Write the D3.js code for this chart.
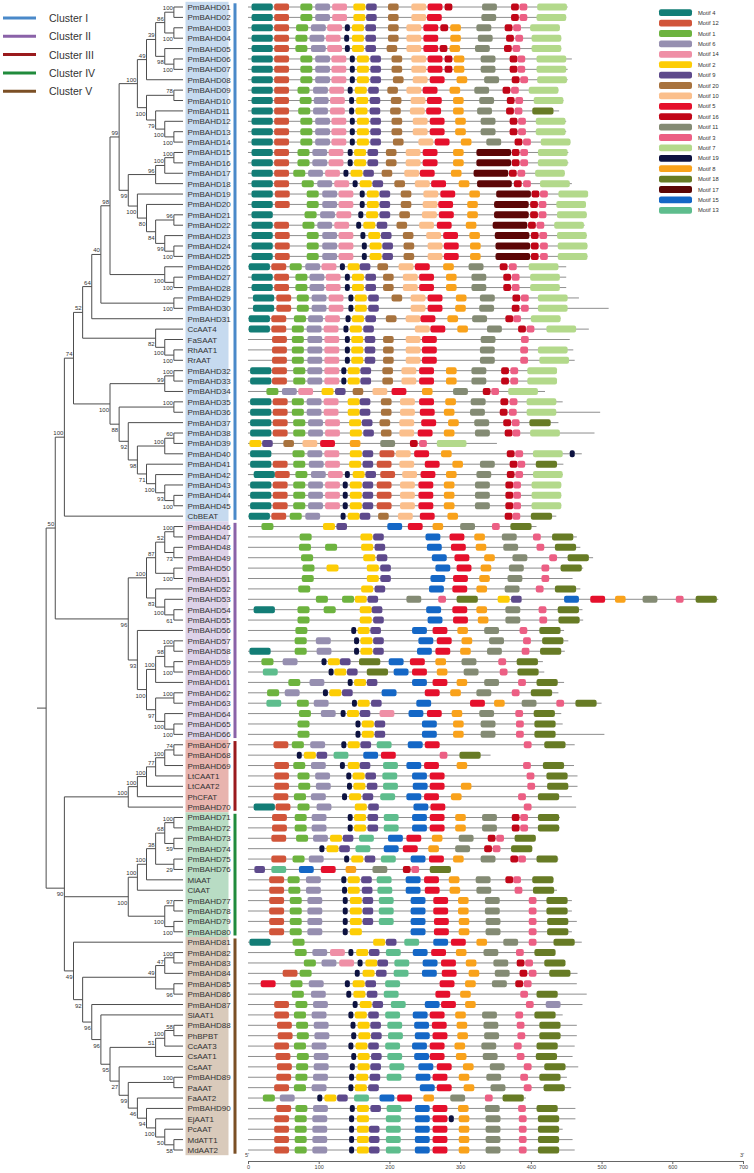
<!DOCTYPE html>
<html><head><meta charset="utf-8">
<script src="https://cdn.jsdelivr.net/npm/d3@7"></script>
<style>body{margin:0;background:#fff}svg{display:block;font-family:"Liberation Sans",Arial,sans-serif}</style>
</head><body>
<svg id="chart" width="754" height="1173"></svg>
<script>
// ---------------- DATA ----------------
const treeNewick = "(((((((((((((((PmBAHD01,PmBAHD02)100,(PmBAHD03,PmBAHD04)100)86,(PmBAHD05,(PmBAHD06,PmBAHD07)100)98)39,PmBAHD08)49,((PmBAHD09,PmBAHD10)78,(PmBAHD11,(PmBAHD12,(PmBAHD13,PmBAHD14)100)100)79)100)100,((((PmBAHD15,PmBAHD16)100,PmBAHD17)100,PmBAHD18)96,(PmBAHD19,(PmBAHD20,((PmBAHD21,PmBAHD22)96,(PmBAHD23,(PmBAHD24,PmBAHD25)100)99)84)80)100)99)99,(PmBAHD26,(PmBAHD27,PmBAHD28)100)100)98,(PmBAHD29,PmBAHD30)100)40,PmBAHD31)64,(CcAAT4,(FaSAAT,(RhAAT1,RrAAT)100)100)82)52,(((PmBAHD32,PmBAHD33)100,PmBAHD34)99,((PmBAHD35,PmBAHD36)100,(PmBAHD37,(((PmBAHD38,PmBAHD39)60,PmBAHD40)100,(PmBAHD41,(PmBAHD42,(PmBAHD43,(PmBAHD44,PmBAHD45)100)93)100)71)98)92)88)100)74,CbBEAT)100,(((((PmBAHD46,PmBAHD47)100,(PmBAHD48,PmBAHD49)73)52,(PmBAHD50,PmBAHD51)100)87,(PmBAHD52,(PmBAHD53,(PmBAHD54,PmBAHD55)61)100)83)100,(PmBAHD56,((((PmBAHD57,PmBAHD58)100,(PmBAHD59,PmBAHD60)100)98,PmBAHD61)100,((PmBAHD62,PmBAHD63)100,(PmBAHD64,(PmBAHD65,PmBAHD66)100)100)97)100)93)96)50,(((((((PmBAHD67,PmBAHD68)74,PmBAHD69)100,LtCAAT1)77,LtCAAT2)100,PhCFAT)100,PmBAHD70)100,((((((PmBAHD71,PmBAHD72)100,(PmBAHD73,PmBAHD74)59)68,(PmBAHD75,PmBAHD76)29)38,MiAAT)100,ClAAT)100,((PmBAHD77,PmBAHD78)97,(PmBAHD79,PmBAHD80)100)100)100,(PmBAHD81,((((PmBAHD82,PmBAHD83)100,PmBAHD84)47,(PmBAHD85,PmBAHD86)96)49,(PmBAHD87,(SlAAT1,((((PmBAHD88,PhBPBT)58,CcAAT3)100,CsAAT1)51,(CsAAT,((PmBAHD89,PaAAT)100,(FaAAT2,(PmBAHD90,(EjAAT1,(PcAAT,(MdATT1,MdAAT2)58)50)100)94)46)99)27)95)96)96)92)49)90))";

const clusterNames = ["Cluster I","Cluster II","Cluster III","Cluster IV","Cluster V"];
const clusterColors = ["#4a89c9","#8a62a8","#9a1a1d","#208b3c","#7b4f25"];
const clusterFills = ["#c6daef","#ddd2e8","#e8b4ae","#b8dcc4","#d9cabb"];
const clusterFirst = ["PmBAHD01","PmBAHD46","PmBAHD67","PmBAHD71","PmBAHD81"];
const clusterLast  = ["CbBEAT","PmBAHD66","PmBAHD70","PmBAHD80","MdAAT2"];

const motifIds    = [4,12,1,6,14,2,9,20,10,5,16,11,3,7,19,8,18,17,15,13];
const motifColors = ["#137d76","#d1553a","#6db33f","#968fb0","#ef8fa6","#fdcd05","#5e4a8c","#a8733e","#fbbf8c","#e5102c","#c10618","#848b74","#ec5f84","#b3d98b","#0d1240","#f9a21b","#677b25","#5c0606","#1467c6","#5ebd8d"];
const motifWidths = [30,21,17,21,21,17,15,15,21,21,11,21,11,42,7,15,30,49,21,21];

const axisTicks = [0,100,200,300,400,500,600,700];

const seqNames = ["PmBAHD01","PmBAHD02","PmBAHD03","PmBAHD04","PmBAHD05","PmBAHD06","PmBAHD07","PmBAHD08","PmBAHD09","PmBAHD10","PmBAHD11","PmBAHD12","PmBAHD13","PmBAHD14","PmBAHD15","PmBAHD16","PmBAHD17","PmBAHD18","PmBAHD19","PmBAHD20","PmBAHD21","PmBAHD22","PmBAHD23","PmBAHD24","PmBAHD25","PmBAHD26","PmBAHD27","PmBAHD28","PmBAHD29","PmBAHD30","PmBAHD31","CcAAT4","FaSAAT","RhAAT1","RrAAT","PmBAHD32","PmBAHD33","PmBAHD34","PmBAHD35","PmBAHD36","PmBAHD37","PmBAHD38","PmBAHD39","PmBAHD40","PmBAHD41","PmBAHD42","PmBAHD43","PmBAHD44","PmBAHD45","CbBEAT",
"PmBAHD46","PmBAHD47","PmBAHD48","PmBAHD49","PmBAHD50","PmBAHD51","PmBAHD52","PmBAHD53","PmBAHD54","PmBAHD55","PmBAHD56","PmBAHD57","PmBAHD58","PmBAHD59","PmBAHD60","PmBAHD61","PmBAHD62","PmBAHD63","PmBAHD64","PmBAHD65","PmBAHD66",
"PmBAHD67","PmBAHD68","PmBAHD69","LtCAAT1","LtCAAT2","PhCFAT","PmBAHD70",
"PmBAHD71","PmBAHD72","PmBAHD73","PmBAHD74","PmBAHD75","PmBAHD76","MiAAT","ClAAT","PmBAHD77","PmBAHD78","PmBAHD79","PmBAHD80",
"PmBAHD81","PmBAHD82","PmBAHD83","PmBAHD84","PmBAHD85","PmBAHD86","PmBAHD87","SlAAT1","PmBAHD88","PhBPBT","CcAAT3","CsAAT1","CsAAT","PmBAHD89","PaAAT","FaAAT2","PmBAHD90","EjAAT1","PcAAT","MdATT1","MdAAT2"];

const seqLengths = [452,450,441,443,443,458,452,452,439,446,440,450,450,456,453,453,448,458,480,478,479,476,479,480,480,450,450,450,468,510,442,482,455,460,462,437,437,420,445,498,439,490,352,472,446,445,443,443,443,436,
408,465,470,488,474,459,470,665,473,474,447,453,448,417,419,447,439,500,443,445,504,
462,343,461,466,466,458,464,
441,441,407,402,439,287,432,437,458,458,465,458,
472,434,448,466,465,479,473,445,465,465,462,459,467,451,457,393,463,463,445,459,462];

const seqMotifs = [
"4:5 12:37 1:74 6:95 14:119 2:149 9:167 20:198 10:231 5:254 16:278 11:331 16:372 3:384 7:409",
"4:5 12:37 1:74 6:95 14:119 2:149 9:167 20:198 10:231 5:253 11:330 16:372 3:384 7:408",
"4:5 12:37 1:68 6:89 14:112 19:137 2:147 9:166 20:198 10:224 5:248 16:272 8:286 11:323 16:363 3:375 7:399",
"4:5 12:37 1:67 6:87 14:110 19:136 2:147 9:166 20:198 10:224 5:248 8:286 11:325 16:365 3:378 7:401",
"4:5 12:37 1:67 6:89 14:112 19:137 2:147 9:166 20:196 10:224 5:248 16:271 8:285 11:321 16:362 3:374 7:401",
"4:5 12:37 1:74 6:95 14:118 19:144 2:154 9:173 20:203 10:231 5:254 16:278 8:291 11:329 16:370 3:381 7:408",
"4:5 12:37 1:74 6:95 14:118 19:144 2:154 9:173 20:203 10:231 5:254 16:278 8:291 11:329 16:370 3:381 7:408",
"4:5 12:37 1:74 6:95 14:118 19:144 2:154 9:173 20:205 10:233 5:257 8:295 11:334 16:373 3:385 7:409",
"4:5 12:37 1:70 6:92 14:115 19:141 2:151 9:170 20:197 10:224 5:247 8:285 11:320 16:360 3:372 7:397",
"4:5 12:37 1:73 6:93 14:116 19:143 2:153 9:172 20:202 10:230 5:253 8:290 11:327 16:366 3:378 7:404",
"4:5 12:37 1:71 6:92 14:116 19:143 2:152 9:172 20:201 10:229 5:252 8:290 11:324 16:365 3:377 18:402",
"4:5 12:37 1:74 6:95 14:118 19:144 2:154 9:173 20:203 10:233 5:257 8:293 11:329 16:370 3:382 7:407",
"4:5 12:37 1:74 6:95 14:118 19:144 2:154 9:173 20:203 10:233 5:257 8:293 11:329 16:370 3:382 7:407",
"4:5 12:37 1:74 6:95 14:118 19:144 2:154 9:173 20:205 10:241 5:264 8:301 11:337 16:377 3:389 7:414",
"4:5 12:37 1:70 6:91 14:114 19:141 2:150 9:169 20:195 10:223 5:247 8:290 17:323 16:373 3:385 7:410",
"4:5 12:37 1:70 6:91 14:114 19:141 2:150 9:169 20:195 10:223 5:247 8:290 17:323 16:373 3:385 7:410",
"4:5 12:37 1:64 6:85 14:109 19:135 2:145 9:163 20:189 10:221 5:243 8:287 17:319 16:369 3:381 7:406",
"4:5 12:37 1:76 6:98 14:122 19:148 2:158 9:176 20:207 10:236 5:259 8:298 17:324 16:376 3:389 7:413",
"4:5 12:38 1:83 6:105 14:128 19:158 2:168 9:186 20:216 10:248 5:272 8:313 17:351 16:401 3:413 7:439",
"4:5 12:38 1:83 6:105 14:128 19:158 2:168 9:186 20:216 10:247 5:269 8:310 17:348 16:399 3:411 7:436",
"4:5 1:80 6:102 14:125 19:156 2:167 9:186 20:214 10:246 5:270 8:310 17:348 16:399 3:411 7:437",
"4:5 12:37 1:77 6:98 14:122 19:153 2:163 9:182 20:210 10:242 5:267 8:308 17:346 16:396 3:408 7:433",
"4:5 12:38 1:83 6:105 14:128 19:159 2:170 9:188 20:219 10:252 5:276 8:313 17:349 16:400 3:412 7:437",
"4:5 12:38 1:83 6:105 14:128 19:161 2:172 9:190 20:220 10:254 5:277 8:314 17:350 16:400 3:413 7:438",
"4:5 12:38 1:83 6:105 14:128 19:161 2:172 9:190 20:220 10:254 5:277 8:314 17:350 16:400 3:413 7:438",
"4:1 12:33 1:59 6:81 14:104 19:130 2:141 9:158 20:183 10:213 5:236 8:276 11:312 16:356 3:369 7:397",
"4:5 12:37 1:67 6:87 14:110 19:137 2:147 9:166 20:191 10:219 5:242 8:280 11:316 16:361 3:373 7:399",
"4:5 12:37 1:67 6:87 14:110 19:137 2:147 9:166 20:191 10:219 5:242 8:280 11:316 16:361 3:373 7:399",
"4:7 12:40 1:69 6:90 14:114 19:142 2:151 9:170 20:203 10:230 5:254 8:294 11:328 16:374 3:386 7:410",
"4:7 12:40 1:69 6:90 14:114 19:142 2:151 9:170 10:230 5:254 8:293 11:327 16:373 3:386 7:410",
"4:1 12:33 1:65 6:85 14:109 19:138 2:147 9:166 20:195 10:223 5:244 8:282 11:317 16:364 3:375 7:400",
"4:1 12:33 1:62 6:83 14:107 19:135 2:144 9:163 10:236 5:258 8:296 11:338 16:382 3:394 7:422",
"12:34 1:62 6:84 14:108 19:137 2:146 9:165 20:191 10:223 5:246 11:329 3:386",
"12:34 1:62 6:84 14:108 19:137 2:146 9:165 20:191 10:223 5:246 11:328 3:385 7:410",
"12:34 1:62 6:84 14:108 19:137 2:146 9:165 20:191 10:223 5:246 11:328 3:385 7:412",
"4:3 12:34 1:64 6:84 14:108 19:132 2:141 9:159 20:190 10:217 5:242 8:280 11:316 16:358 3:371 7:395",
"4:3 12:34 1:64 6:84 14:108 19:132 2:141 9:159 20:190 10:217 5:242 8:280 11:316 16:358 3:371 7:395",
"1:26 6:48 14:71 2:104 9:123 20:148 10:176 5:203 8:246 11:290 16:332 3:344 7:368",
"4:3 12:35 1:62 6:83 14:107 2:141 9:158 20:188 10:215 5:242 8:279 11:315 16:357 3:370 7:394",
"4:3 12:35 1:62 6:83 14:107 2:141 9:158 20:188 10:215 5:243 8:277 11:314 16:356 3:369 7:394",
"4:3 12:35 1:64 6:85 14:109 2:143 9:161 20:186 10:214 5:245 8:283 11:320 16:361 3:373 18:398",
"4:3 12:35 1:64 6:85 14:109 2:144 9:163 20:188 10:214 5:240 8:277 11:321 16:363 3:374 7:399",
"2:2 9:20 20:50 10:77 5:102 8:144 11:187 16:229 3:242 7:267",
"4:3 1:63 6:84 14:108 2:144 9:162 12:186 10:209 5:235 8:273 16:366 3:378 7:403 19:455",
"4:3 12:35 1:64 6:86 14:109 2:143 9:162 12:182 10:214 5:250 8:289 11:328 16:370 3:381 18:407",
"4:8 12:38 1:67 6:89 14:113 19:137 2:148 9:166 12:187 10:218 5:244 8:280 11:323 16:366 3:378 7:403",
"4:3 12:35 1:64 6:85 14:109 19:134 2:144 9:162 12:182 10:215 5:241 8:277 11:321 16:364 3:375 7:401",
"4:3 12:35 1:64 6:85 14:109 19:134 2:144 9:162 12:182 10:215 5:241 8:277 11:321 16:364 3:375 7:401",
"4:3 12:35 1:64 6:85 14:109 19:134 2:144 9:162 12:182 10:215 5:241 8:277 11:321 16:364 3:375 7:401",
"4:1 12:33 1:59 6:81 19:131 2:141 9:158 20:184 10:212 5:243 8:282 16:363 3:374 18:400",
"1:19 2:106 9:125 15:197 5:226 8:261 11:300 3:345 18:371",
"1:73 2:159 9:177 15:251 5:285 8:320 11:359 3:403 18:430",
"1:72 1:109 2:160 9:179 15:253 5:287 8:322 11:361 3:408 18:434",
"1:75 2:163 9:182 15:260 5:292 8:334 11:374 3:426 18:452",
"1:77 2:111 2:168 9:187 15:265 5:295 8:329 11:369 3:415 18:442",
"1:76 2:168 9:187 15:258 5:290 8:327 11:367 3:415",
"1:71 2:160 9:179 15:256 5:289 8:323 11:363 3:407 18:434",
"1:96 1:133 2:151 9:169 11:224 3:269 18:295 2:353 9:372 15:447 5:484 8:519 11:558 3:605 18:633",
"4:8 1:70 1:107 2:158 9:175 15:252 5:289 8:323 11:364 3:411 18:438",
"1:70 2:158 9:177 15:254 5:290 8:325 11:364 3:412 18:439",
"1:67 19:146 2:155 9:173 15:232 5:261 8:296 11:334 3:384 18:412",
"1:66 6:96 19:150 2:159 9:177 15:241 5:267 8:302 11:341 3:389 18:416",
"4:2 1:66 6:97 19:150 2:159 9:177 15:239 5:265 8:300 11:338 3:387 18:413",
"1:19 6:49 19:104 2:113 9:130 18:157 15:199 5:229 8:265 11:302 3:354 18:380",
"13:21 19:114 2:122 9:140 18:168 15:206 5:232 8:267 11:305 3:356 18:381",
"1:57 6:87 19:141 2:150 9:168 15:232 5:261 8:295 11:334 3:382 18:408",
"1:27 6:52 19:106 2:115 9:133 15:189 5:250 8:286 11:323 3:373 18:400",
"13:26 1:69 6:93 19:147 2:155 9:174 15:238 5:314 8:348 11:387 3:436 18:463",
"1:72 6:103 19:131 2:140 9:158 14:186 15:227 5:253 8:288 11:327 3:378 18:404",
"1:70 19:152 2:161 9:179 15:246 8:290 11:329 3:379 18:405",
"1:70 19:152 2:161 9:179 15:246 8:290 11:329 3:379 18:405",
"12:36 1:62 6:88 19:132 2:141 9:159 13:182 15:226 5:250 3:390 18:419",
"19:69 2:79 9:97 13:121 15:163 5:188 3:271 18:299",
"12:37 1:64 6:89 19:130 2:141 9:158 13:191 15:224 5:249 8:295 3:389 18:417",
"12:37 1:70 6:95 19:139 2:148 9:166 13:190 15:232 5:257 3:394 18:422",
"12:37 1:71 6:96 19:140 2:149 9:168 13:191 15:233 5:257 8:301 3:395 18:423",
"12:36 1:65 6:89 19:133 2:143 9:162 13:187 15:224 5:249 8:287 3:382 18:410",
"4:8 12:39 1:70 6:97 2:151 9:170 15:234 5:258 3:390",
"12:34 1:66 6:90 19:141 2:150 9:169 13:192 15:232 5:257 8:293 11:331 16:373 3:385 18:410",
"12:34 1:66 6:90 19:141 2:150 9:169 13:192 15:232 5:257 8:293 11:331 16:373 3:385 18:410",
"12:33 1:68 6:92 2:116 9:134 13:157 15:198 5:224 8:260 11:298 16:339 3:351 18:377",
"19:101 2:111 9:129 13:152 15:192 5:219 8:255 11:293 16:334 3:346 18:372",
"12:33 1:63 6:86 19:136 2:146 9:165 13:188 15:230 5:256 8:290 11:329 16:371 3:382 18:408",
"9:9 13:33 15:72 5:103 8:138 11:176 16:219 3:231 18:257",
"12:30 1:56 6:82 19:132 2:141 9:160 13:182 15:223 5:249 8:284 11:322 16:364 3:375 18:402",
"12:30 1:57 6:82 19:133 2:141 9:161 13:183 15:223 5:250 8:285 11:323 3:377 18:403",
"12:30 1:59 6:84 19:134 2:144 9:162 13:185 15:230 5:262 8:297 11:335 3:397 18:422",
"12:30 1:59 6:84 19:134 2:144 9:162 13:185 15:230 5:262 8:297 11:335 3:397 18:422",
"12:30 1:59 6:84 19:134 2:144 9:162 13:185 15:230 5:263 8:298 11:336 3:397 18:423",
"12:30 1:59 6:84 19:134 2:144 15:230 5:263 8:298 11:336 3:397 18:423",
"4:2 1:63 2:177 9:195 13:221 15:262 5:287 8:323 11:361 3:397 18:432",
"1:66 6:91 14:116 19:142 2:153 9:171 13:195 15:233 5:259 8:294 11:333 3:379 18:405",
"1:79 6:104 14:129 19:155 2:166 9:183 13:207 15:247 5:273 8:308 11:347 16:380 3:392 18:419",
"12:49 1:73 19:151 2:162 9:181 13:206 15:246 5:274 8:312 11:349 16:384 3:397 18:426",
"5:18 1:60 6:86 19:137 2:148 9:166 13:194 5:271 8:307 11:345 16:378 3:390",
"1:62 6:89 19:139 2:149 9:168 13:192 5:265 8:300 3:385 18:408",
"12:37 1:67 6:92 19:148 2:158 9:176 13:202 15:250 5:273 8:307 3:393 6:421",
"12:37 1:65 6:90 19:142 2:151 9:170 13:194 15:233 5:257 8:293 11:331 3:378 18:405",
"12:41 1:68 6:93 19:145 2:155 9:173 13:197 15:235 5:260 8:295 11:333 3:380 18:412",
"12:42 1:69 6:94 19:146 2:156 9:174 13:198 15:236 5:261 8:296 11:334 3:381 18:412",
"12:37 1:65 6:90 19:142 2:152 9:170 13:194 15:232 5:257 8:292 11:330 3:376 18:408",
"12:39 1:69 6:93 19:146 2:155 9:174 13:197 15:235 5:257 8:294 11:332 3:380 18:407",
"12:41 1:68 6:93 19:144 2:155 9:173 13:200 15:241 5:267 8:304 11:342 3:390 18:419",
"12:40 1:67 6:92 19:143 2:153 9:172 13:196 15:237 5:261 8:298 11:337 3:385 18:412",
"12:37 1:65 6:90 19:142 2:151 9:170 15:243 5:267 8:305 11:343 3:390 18:418",
"1:21 6:45 19:98 2:108 9:126 13:150 15:186 5:211 8:248 11:286 3:335 18:360",
"12:40 1:67 6:92 19:144 2:154 9:173 13:196 15:236 5:261 8:297 11:335 3:382 18:408",
"12:37 1:66 6:91 19:143 2:154 13:195 15:236 5:261 19:284 8:298 11:336 3:383 18:410",
"12:37 1:66 6:91 19:143 2:154 9:171 13:195 15:236 5:261 8:298 11:336 3:383 18:410",
"12:37 1:66 6:91 19:143 2:154 9:171 13:195 15:236 5:261 8:298 11:336 3:383 18:410",
"12:37 1:66 6:91 19:143 2:154 9:171 13:195 15:236 5:261 8:298 11:336 3:383 18:410"];

// ---------------- DRAW ----------------
const svg = d3.select("#chart");
const FONT = '"Liberation Sans", Arial, sans-serif';

function parseNewick(s){
  let i = 0;
  function node(){
    const n = {};
    if (s[i] === "("){
      i++; n.children = [node()];
      while (s[i] === ","){ i++; n.children.push(node()); }
      i++;
    }
    let name = "";
    while (i < s.length && ",();".indexOf(s[i]) < 0){ name += s[i]; i++; }
    n.name = name;
    return n;
  }
  return node();
}

const root = d3.hierarchy(parseNewick(treeNewick));
d3.cluster().nodeSize([1,1]).separation(() => 1)(root);
const leaves = root.leaves();
const leafXs = leaves.map(d => d.x);
const maxDepth = d3.max(root.descendants(), d => d.y);

const yTree = d3.scaleLinear().domain([d3.min(leafXs), d3.max(leafXs)]).range([7, 1150]);
const xTree = d3.scaleLinear().domain([0, maxDepth]).range([37, 183]);
const rowY = d3.scalePoint().domain(seqNames).range([7, 1150]);
const xAA = d3.scaleLinear().domain([0, 700]).range([248, 743]);

// tree branches
const gTree = svg.append("g").attr("stroke", "#4d4d4d").attr("stroke-width", 1).attr("fill", "none");
root.descendants().forEach(n => {
  if (n.children){
    const ys = n.children.map(c => yTree(c.x));
    gTree.append("line").attr("x1", xTree(n.y)).attr("x2", xTree(n.y))
      .attr("y1", d3.min(ys)).attr("y2", d3.max(ys));
  }
  if (n.parent){
    gTree.append("line").attr("x1", xTree(n.parent.y)).attr("x2", xTree(n.y))
      .attr("y1", yTree(n.x)).attr("y2", yTree(n.x));
  }
});

// bootstrap labels
root.descendants().filter(n => n.children && n.parent && n.data.name).forEach(n => {
  const top = n.parent.children.indexOf(n) === 0;
  svg.append("text").attr("x", xTree(n.y) - 1).attr("y", yTree(n.x) + (top ? -2 : 8))
    .attr("text-anchor", "end").attr("font-size", 6).attr("font-family", FONT)
    .attr("fill", "#333").text(n.data.name);
});

// cluster label background, bars
const idx = name => seqNames.indexOf(name);
const step = rowY.step();
clusterNames.forEach((c, k) => {
  const i0 = idx(clusterFirst[k]), i1 = idx(clusterLast[k]);
  const y0 = rowY(seqNames[i0]) - step / 2, y1 = rowY(seqNames[i1]) + step / 2;
  svg.append("rect").attr("x", 185.5).attr("y", y0).attr("width", 43).attr("height", y1 - y0)
    .attr("fill", clusterFills[k]);
  svg.append("rect").attr("x", 233.5).attr("y", y0 + 1.5).attr("width", 3).attr("height", y1 - y0 - 3)
    .attr("fill", clusterColors[k]);
});

// leaf labels
leaves.forEach(l => {
  svg.append("text").attr("x", 187.5).attr("y", yTree(l.x) + 3)
    .attr("font-size", 8).attr("font-family", FONT).attr("fill", "#333").text(l.data.name);
});

// motif rows
const gMotif = svg.append("g");
seqNames.forEach((name, i) => {
  const y = rowY(name);
  gMotif.append("line").attr("x1", xAA(0)).attr("x2", xAA(seqLengths[i]))
    .attr("y1", y).attr("y2", y).attr("stroke", "#8e8e8e").attr("stroke-width", 1);
  const sites = seqMotifs[i].split(" ").map(t => t.split(":").map(Number));
  gMotif.selectAll(null).data(sites).enter().append("rect")
    .attr("x", d => xAA(d[1]))
    .attr("width", d => xAA(d[1] + motifWidths[motifIds.indexOf(d[0])]) - xAA(d[1]))
    .attr("y", y - 3.5).attr("height", 7).attr("rx", 2)
    .attr("fill", d => motifColors[motifIds.indexOf(d[0])]);
});

// axis
const axis = d3.axisBottom(xAA).tickValues(axisTicks).tickSize(3).tickPadding(1);
const gAxis = svg.append("g").attr("transform", "translate(0,1161)").call(axis);
gAxis.select(".domain").attr("stroke", "#666");
gAxis.selectAll(".tick line").attr("stroke", "#666");
gAxis.selectAll("text").attr("font-size", 5.5).attr("font-family", FONT).attr("fill", "#444");
svg.append("text").attr("x", xAA(0) - 1).attr("y", 1157).attr("font-size", 5.5).attr("font-family", FONT).attr("fill", "#444").attr("text-anchor", "middle").text("5'");
svg.append("text").attr("x", xAA(700) - 1).attr("y", 1157).attr("font-size", 5.5).attr("font-family", FONT).attr("fill", "#444").attr("text-anchor", "middle").text("3'");

// cluster legend (top-left)
clusterNames.forEach((c, k) => {
  const y = 18 + k * 18.3;
  svg.append("line").attr("x1", 3).attr("x2", 36).attr("y1", y).attr("y2", y)
    .attr("stroke", clusterColors[k]).attr("stroke-width", 3);
  svg.append("text").attr("x", 49).attr("y", y + 4).attr("font-size", 10.5)
    .attr("font-family", FONT).attr("fill", "#333").text(c);
});

// motif legend (top-right)
motifIds.forEach((m, k) => {
  const y = 12.7 + k * 10.4;
  svg.append("rect").attr("x", 659).attr("y", y - 3.4).attr("width", 33).attr("height", 6.8)
    .attr("rx", 2).attr("fill", motifColors[k]);
  svg.append("text").attr("x", 698).attr("y", y + 2).attr("font-size", 5.8)
    .attr("font-family", FONT).attr("fill", "#333").text("Motif " + m);
});
</script>
</body></html>
